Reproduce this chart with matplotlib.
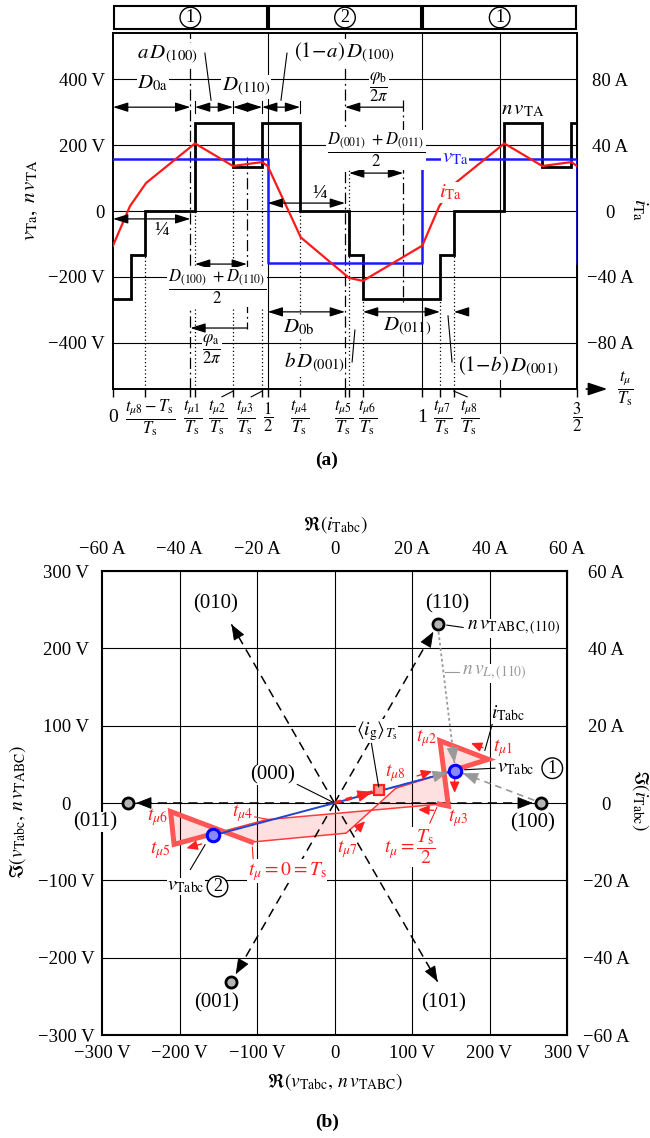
import numpy as np
import matplotlib
matplotlib.use('Agg')
import matplotlib.pyplot as plt
from matplotlib.patches import Rectangle, Polygon
from matplotlib.transforms import Affine2D, blended_transform_factory

plt.rcParams['font.family'] = ['Liberation Serif', 'DejaVu Serif']
plt.rcParams['mathtext.fontset'] = 'stix'
plt.rcParams['font.size'] = 13

try:
    from matplotlib.mathtext import MathTextParser
    MathTextParser('path').parse(r'$\underline{v}$')
    UL = True
except Exception:
    UL = False


def ul(s):
    return r'\underline{%s}' % s if UL else s


W, H = 650, 1138


def rect(x0, y0, x1, y1):
    return [x0 / W, 1 - y1 / H, (x1 - x0) / W, (y1 - y0) / H]


# ---------------- data (a): waveforms over t/Ts
nv_edges = [0, 0.057, 0.103, 0.265, 0.388, 0.482, 0.605, 0.763, 0.808,
            1.057, 1.102, 1.264, 1.387, 1.481, 1.5]
nv_levels = [-267, -133, 0, 267, 133, 267, 0, -133, -267, -133, 0, 267, 133, 267]
v_t = [0, 0.5, 0.5, 1.0, 1.0, 1.5, 1.5]
v_ta = [157, 157, -157, -157, 157, 157, -157]
i_t = [0, 0.055, 0.107, 0.265, 0.388, 0.482, 0.5, 0.607, 0.763, 0.808, 1.0,
       1.055, 1.107, 1.265, 1.388, 1.482, 1.5]
i_ta = [-21, 3, 17, 41, 27.3, 29.7, 27.3, -16, -40.6, -42.4, -21,
        3, 17, 41, 27.3, 29.7, 27.3]
v_ticks = [-400, -200, 0, 200, 400]
v_labels = ['−400 V', '−200 V', '0', '200 V', '400 V']
a_ticks = [-80, -40, 0, 40, 80]
a_labels = ['−80 A', '−40 A', '0', '40 A', '80 A']

# ---------------- data (b): space vectors
st_name = ['(100)', '(110)', '(010)', '(011)', '(001)', '(101)']
st_re = [267, 133, -133, -267, -133, 133]
st_im = [0, 231, 231, 0, -231, -231]
st_dot = [True, True, False, True, True, False]
vt_re = [156, -157]
vt_im = [42, -42]
# current trajectory (A): 0, tmu7, tmu8, tmu1, tmu2, tmu3, Ts/2, tmu4, tmu5, tmu6, Ts
tr_re = [-21.4, 3.0, 15.8, 39.7, 27.2, 29.4, 27.0, -17.5, -41.4, -42.3, -21.4]
tr_im = [-10.1, -7.8, 3.8, 11.3, 16.1, -0.8, -0.3, -4.3, -10.7, -2.2, -10.1]
thick1_start = (30.5, 8.4)
thick2_start = (-31.5, -8.0)
ig_re, ig_im = 11.6, 3.4
b_v_ticks = [-300, -200, -100, 0, 100, 200, 300]
b_v_labels = ['−300 V', '−200 V', '−100 V', '0', '100 V', '200 V', '300 V']
b_a_ticks = [-60, -40, -20, 0, 20, 40, 60]
b_a_labels = ['−60 A', '−40 A', '−20 A', '0', '20 A', '40 A', '60 A']

fig = plt.figure(figsize=(6.5, 11.38), dpi=100)
DASHDOT = (0, (9, 3, 1.5, 3))

# ================= (a)
hdr = fig.add_axes(rect(113, 6, 577, 29))
hdr.set_xlim(0, 1.5)
hdr.set_ylim(0, 1)
hdr.axis('off')
for x0, num in zip([0.0, 0.5, 1.0], ['1', '2', '1']):
    hdr.add_patch(Rectangle((x0 + 0.003, 0.02), 0.494, 0.96, fill=False,
                            lw=1.5, ec='k', clip_on=False))
    hdr.text(x0 + 0.25, 0.5, num, ha='center', va='center', fontsize=13,
             bbox=dict(boxstyle='circle,pad=0.1', fc='none', ec='k', lw=1))

ax = fig.add_axes(rect(113, 33, 577, 389))
ax.set_xlim(0, 1.5)
ax.set_ylim(-540, 540)
for s in ax.spines.values():
    s.set_linewidth(1.4)
ax.set_yticks(v_ticks, v_labels)
ax.tick_params(axis='y', length=0, pad=6, labelsize=13.5)
xt = [0, 0.103, 0.25, 0.265, 0.388, 0.482, 0.5, 0.605, 0.75, 0.763, 0.808,
      1.0, 1.057, 1.102, 1.25, 1.5]
ax.set_xticks(xt, [''] * len(xt))
ax.tick_params(axis='x', direction='out', length=6, width=1)

for v in v_ticks:
    ax.axhline(v, color='k', lw=0.8, zorder=0.5)
for x in [0.5, 1.0, 1.25]:
    ax.axvline(x, color='k', lw=0.8, zorder=0.5)
for x in [0.25, 0.75]:
    ax.axvline(x, color='k', lw=0.9, ls=DASHDOT, zorder=0.6)
ax.plot([0.433, 0.433], [164, -358], color='k', lw=0.9, ls=DASHDOT, zorder=0.6)
ax.plot([0.938, 0.938], [336, -276], color='k', lw=0.9, ls=DASHDOT, zorder=0.6)

# dotted switching instants
for k in range(2, 11):
    lo = min(nv_levels[k - 1], nv_levels[k])
    top = 125 if k == 7 else lo
    ax.plot([nv_edges[k]] * 2, [-540, top], color='k', lw=0.9,
            ls=(0, (1, 2)), zorder=0.7)

ax.stairs(nv_levels, nv_edges, color='k', lw=2, baseline=None, zorder=3)
ax.plot(v_t, v_ta, color='#1a1aff', lw=1.8, zorder=3.2)
tr_a = Affine2D().scale(1, 5) + ax.transData
ax.plot(i_t, i_ta, color='#ff1a1a', lw=1.6, transform=tr_a, zorder=3.4)

sec = ax.secondary_yaxis('right', functions=(lambda v: v / 5, lambda a: a * 5))
sec.set_yticks(a_ticks, a_labels, ha='center')
sec.tick_params(length=0, pad=24, labelsize=13.5)


def dim(x0, x1, y, style='<|-|>'):
    ax.annotate('', xy=(x1, y), xytext=(x0, y),
                arrowprops=dict(arrowstyle=style + ',head_length=0.7,head_width=0.22',
                                color='k', lw=0.9, shrinkA=0, shrinkB=0), zorder=4)


def lab(x, y, s, fs=15, color='k', ha='center', bg=True):
    ax.text(x, y, s, fontsize=fs, color=color, ha=ha, va='center', zorder=6,
            bbox=dict(fc='white', ec='none', pad=0.5) if bg else None)


def lead(x0, y0, x1, y1, a=None, color='k'):
    (a or ax).plot([x0, x1], [y0, y1], color=color, lw=0.8, zorder=5)


dim(0, 0.25, 315)
for x0, x1 in [(0.265, 0.388), (0.388, 0.482), (0.482, 0.605)]:
    dim(x0, x1, 315)
for x in [0.265, 0.388, 0.482, 0.605]:
    ax.plot([x, x], [298, 334], color='k', lw=0.8, zorder=4)
dim(0, 0.25, -24)
dim(0.5, 0.75, 24)
dim(0.265, 0.433, -161)
dim(0.433, 0.25, -355, '-|>')
dim(0.938, 0.75, 315, '-|>')
dim(0.763, 0.938, 115)
dim(0.5, 0.75, -306)
dim(0.808, 1.057, -306)
dim(1.148, 1.102, -306, '-|>')

lab(0.175, 473, r'$a\,D_{(100)}$')
lead(0.297, 479, 0.317, 336)
lab(0.129, 388, r'$D_{\rm 0a}$')
lab(0.430, 376, r'$D_{(110)}$')
lab(0.585, 479, r'$(1\!-\!a)\,D_{(100)}$', ha='left')
lead(0.5625, 479, 0.543, 336)
lab(0.86, 376, r'$\dfrac{\varphi_{\rm b}}{2\pi}$', fs=12)
lab(0.85, 185, r'$\dfrac{D_{(001)}\ +D_{(011)}}{2}$', fs=12)
lab(1.325, 306, r'$n\,v_{\rm TA}$', bg=False)
lab(1.106, 161, r'$v_{\rm Ta}$', color='#1a1aff')
lab(1.09, 55, r'$i_{\rm Ta}$', color='#ff1a1a')
lab(0.158, -58, '¼', fs=14, bg=False)
lab(0.669, 52, '¼', fs=14, bg=False)
lab(0.336, -230, r'$\dfrac{D_{(100)}\ +D_{(110)}}{2}$', fs=12)
lab(0.32, -421, r'$\dfrac{\varphi_{\rm a}}{2\pi}$', fs=12)
lab(0.601, -352, r'$D_{\rm 0b}$')
lab(0.65, -461, r'$b\,D_{(001)}$')
lead(0.773, -458, 0.782, -361)
lab(0.95, -352, r'$D_{(011)}$', bg=False)
lab(1.115, -473, r'$(1\!-\!b)\,D_{(001)}$', ha='left')
lead(1.096, -458, 1.083, -318)

# x tick labels under axis
btr = blended_transform_factory(ax.transData, ax.transAxes)
tick_txt = [(0.0, '0'), (0.12, r'$\dfrac{t_{\mu8}-T_{\rm s}}{T_{\rm s}}$'),
            (0.259, r'$\dfrac{t_{\mu1}}{T_{\rm s}}$'), (0.339, r'$\dfrac{t_{\mu2}}{T_{\rm s}}$'),
            (0.43, r'$\dfrac{t_{\mu3}}{T_{\rm s}}$'), (0.5, r'$\dfrac{1}{2}$'),
            (0.605, r'$\dfrac{t_{\mu4}}{T_{\rm s}}$'), (0.747, r'$\dfrac{t_{\mu5}}{T_{\rm s}}$'),
            (0.824, r'$\dfrac{t_{\mu6}}{T_{\rm s}}$'), (0.998, '1'),
            (1.067, r'$\dfrac{t_{\mu7}}{T_{\rm s}}$'), (1.154, r'$\dfrac{t_{\mu8}}{T_{\rm s}}$'),
            (1.5, r'$\dfrac{3}{2}$')]
for x, s in tick_txt:
    ax.text(x, -0.079, s, transform=btr, ha='center', va='center',
            fontsize=12 if s.startswith('$') else 14)
for x0, x1 in [(0.388, 0.352), (0.482, 0.447), (1.102, 1.145)]:
    ax.plot([x0, x1], [-0.006, -0.022], transform=btr, color='k', lw=0.8,
            clip_on=False)
ax.annotate('', xy=(1.598, -540), xytext=(1.53, -540),
            arrowprops=dict(arrowstyle='-|>,head_length=0.9,head_width=0.3',
                            color='k', lw=1.2, shrinkA=0, shrinkB=0),
            annotation_clip=False)
ax.text(1.655, -540, r'$\dfrac{t_{\mu}}{T_{\rm s}}$', ha='center', va='center',
        fontsize=12)

fig.text(30 / W, 1 - 200 / H, r'$v_{\rm Ta},\; n\,v_{\rm TA}$', rotation=90,
         ha='center', va='center', fontsize=15)
fig.text(640 / W, 1 - 210 / H, r'$i_{\rm Ta}$', rotation=-90,
         ha='center', va='center', fontsize=15)
fig.text(327 / W, 1 - 460 / H, '(a)', ha='center', va='center',
         fontsize=14, weight='bold')

# ================= (b)
axb = fig.add_axes(rect(102, 571, 567, 1035))
axb.set_xlim(-300, 300)
axb.set_ylim(-300, 300)
for s in axb.spines.values():
    s.set_linewidth(1.5)
axb.set_xticks(b_v_ticks, b_v_labels)
axb.set_yticks(b_v_ticks, b_v_labels, ha='center')
axb.tick_params(axis='x', length=0, pad=7, labelsize=13.5)
axb.tick_params(axis='y', length=0, pad=26, labelsize=13.5)
for v in b_v_ticks[1:-1]:
    axb.axhline(v, color='k', lw=0.8, zorder=0.5)
    axb.axvline(v, color='k', lw=0.8, zorder=0.5)

secx = axb.secondary_xaxis('top', functions=(lambda v: v / 5, lambda a: a * 5))
secx.set_xticks(b_a_ticks, b_a_labels)
secx.tick_params(length=0, pad=9, labelsize=13.5)
secy = axb.secondary_yaxis('right', functions=(lambda v: v / 5, lambda a: a * 5))
secy.set_yticks(b_a_ticks, b_a_labels, ha='center')
secy.tick_params(length=0, pad=28, labelsize=13.5)

tr_b = Affine2D().scale(5) + axb.transData


def head(tip, u, color, scale=11, tr=None):
    kw = dict(xycoords=tr, textcoords=tr) if tr is not None else {}
    axb.annotate('', xy=tip, xytext=(tip[0] - u[0] * 3, tip[1] - u[1] * 3),
                 arrowprops=dict(arrowstyle='-|>,head_length=0.9,head_width=0.35',
                                 color=color, lw=0.6, shrinkA=0, shrinkB=0,
                                 mutation_scale=scale), zorder=5, **kw)


def vec(p0, p1, color, ls, lw, s0=0.0, s1=0.0, z=2.5):
    d = np.hypot(p1[0] - p0[0], p1[1] - p0[1])
    u = ((p1[0] - p0[0]) / d, (p1[1] - p0[1]) / d)
    a = (p0[0] + u[0] * s0, p0[1] + u[1] * s0)
    b = (p1[0] - u[0] * s1, p1[1] - u[1] * s1)
    axb.plot([a[0], b[0]], [a[1], b[1]], color=color, ls=ls, lw=lw, zorder=z)
    head(b, u, color)


# switching state vectors
for x, y, dot in zip(st_re, st_im, st_dot):
    vec((0, 0), (x, y), 'k', (0, (6, 4)), 1.1, s1=11 if dot else 0)
    if dot:
        axb.plot(x, y, 'o', ms=8, mfc='#b4b4b4', mec='k', mew=2, zorder=6)

# current trajectory
pts = np.column_stack([tr_re, tr_im])
axb.add_patch(Polygon(pts, closed=True, fc=(1, 0, 0, 0.12), ec='none',
                      transform=tr_b, zorder=1.5))
axb.plot(tr_re, tr_im, color='#ff3b3b', lw=1.1, transform=tr_b, zorder=2)
for start, i0, i1 in [(thick1_start, 3, 7), (thick2_start, 8, 11)]:
    xs = [start[0]] + tr_re[i0:i1]
    ys = [start[1]] + tr_im[i0:i1]
    axb.plot(xs, ys, color='#ff5555', lw=3.6, transform=tr_b, zorder=3,
             solid_joinstyle='miter')
for p0, p1 in [((38.3, 14.3), (35.2, 15.5)), ((31.0, 6.3), (31.0, 2.6)),
               ((21.3, 7.0), (25.2, 8.2)), ((25.6, -1.9), (21.6, -1.7)),
               ((5.4, -7.3), (7.9, -4.7)), ((-34.3, -10.6), (-38.2, -11.7))]:
    axb.annotate('', xy=p1, xytext=p0, xycoords=tr_b, textcoords=tr_b,
                 arrowprops=dict(arrowstyle='-|>,head_length=0.5,head_width=0.22',
                                 color='#ff2020', lw=1, shrinkA=0, shrinkB=0), zorder=5)

# grid current mean
axb.plot([0, ig_re * 0.85], [0, ig_im * 0.85], color='#ff2020', lw=2.4,
         ls=(0, (2, 1.5)), transform=tr_b, zorder=3.6)
head((ig_re * 0.85, ig_im * 0.85), (0.96, 0.28), '#ff2020', tr=tr_b)
axb.plot(ig_re, ig_im, 's', ms=7, mfc='#ff9a9a', mec='#ff2020', mew=1.6,
         transform=tr_b, zorder=3.7)

# converter voltage vectors
v1 = (vt_re[0], vt_im[0])
vec((st_re[1], st_im[1]), v1, '#999999', (0, (1.5, 1.5)), 1.3, s0=10, s1=10, z=3.6)
vec((st_re[0], st_im[0]), v1, '#999999', (0, (4, 3)), 1.2, s0=10, s1=10, z=3.6)
vec((0, 0), v1, '#999999', (0, (4, 3)), 1.2, s1=10, z=3.4)
for x, y in zip(vt_re, vt_im):
    axb.plot([0, x], [0, y], color='#2244cc', lw=1.4, zorder=3.5)
    axb.plot(x, y, 'o', ms=9, mfc='#8888ff', mec='#0000ff', mew=2.2, zorder=6)


def blab(x, y, s, fs=15, color='k', ha='center', bg=True):
    axb.text(x, y, s, fontsize=fs, color=color, ha=ha, va='center', zorder=7,
             clip_on=False,
             bbox=dict(fc='white', ec='none', pad=0.3) if bg else None)


def circ(x, y, num):
    axb.text(x, y, num, fontsize=13, ha='center', va='center', zorder=7,
             bbox=dict(boxstyle='circle,pad=0.1', fc='white', ec='k', lw=1))


def bl(x0, y0, x1, y1, color='k'):
    axb.plot([x0, x1], [y0, y1], color=color, lw=0.8, zorder=5)


blab(-154, 258, st_name[2])
blab(145, 258, st_name[1])
blab(-309, -24, st_name[3])
blab(256, -26, st_name[0])
blab(-152, -258, st_name[4])
blab(141, -258, st_name[5])
blab(-80, 36, '(000)')
bl(-48, 24, -2, 1)
blab(171, 226, r'$n\,' + ul('v') + r'_{\rm TABC,(110)}$', fs=14, ha='left')
bl(145, 230, 166, 227)
blab(165, 168, r'$n\,' + ul('v') + r'_{L,(110)}$', fs=14, color='#999999', ha='left')
bl(143, 169, 160, 169, color='#999999')
blab(224, 116, r'$' + ul('i') + r'_{\rm Tabc}$', fs=14)
bl(205, 107, 194, 68)
blab(55, 93, r'$\langle ' + ul('i') + r'_{\rm g}\rangle_{T_{\rm s}}$', fs=14)
bl(47, 81, 57, 21)
blab(210, 45, r'$' + ul('v') + r'_{\rm Tabc}$', fs=14, ha='left')
bl(168, 43, 207, 45)
circ(281, 45, '1')
blab(-192, -108, r'$' + ul('v') + r'_{\rm Tabc}$', fs=14)
bl(-186, -86, -167, -54)
circ(-151, -108, '2')

red = '#ff2020'
blab(119, 84, r'$t_{\mu2}$', fs=14, color=red, bg=False)
blab(217, 71, r'$t_{\mu1}$', fs=14, color=red, bg=False)
blab(159, -19, r'$t_{\mu3}$', fs=14, color=red, bg=False)
blab(78, 39, r'$t_{\mu8}$', fs=14, color=red, bg=False)
blab(16, -60, r'$t_{\mu7}$', fs=14, color=red, bg=False)
blab(-119, -13, r'$t_{\mu4}$', fs=14, color=red, bg=False)
bl(-103, -18, -87, -21, color=red)
blab(-229, -18, r'$t_{\mu6}$', fs=14, color=red, bg=False)
blab(-225, -61, r'$t_{\mu5}$', fs=14, color=red, bg=False)
blab(-61, -88, r'$t_{\mu}=0=T_{\rm s}$', fs=14, color=red)
bl(-106, -57, -105, -72, color=red)
blab(97, -57, r'$t_{\mu}=\dfrac{T_{\rm s}}{2}$', fs=14, color=red)
bl(132, -6, 123, -26, color=red)

fig.text(335 / W, 1 - 525 / H, r'$\Re(' + ul('i') + r'_{\rm Tabc})$',
         ha='center', va='center', fontsize=14)
fig.text(335 / W, 1 - 1082 / H,
         r'$\Re(' + ul('v') + r'_{\rm Tabc},\, n\,' + ul('v') + r'_{\rm TABC})$',
         ha='center', va='center', fontsize=14)
fig.text(18 / W, 1 - 812 / H,
         r'$\Im(' + ul('v') + r'_{\rm Tabc},\, n\,' + ul('v') + r'_{\rm TABC})$',
         rotation=90, ha='center', va='center', fontsize=14)
fig.text(640 / W, 1 - 800 / H, r'$\Im(' + ul('i') + r'_{\rm Tabc})$',
         rotation=-90, ha='center', va='center', fontsize=14)
fig.text(327 / W, 1 - 1122 / H, '(b)', ha='center', va='center',
         fontsize=14, weight='bold')

fig.savefig('out.png', dpi=100)
